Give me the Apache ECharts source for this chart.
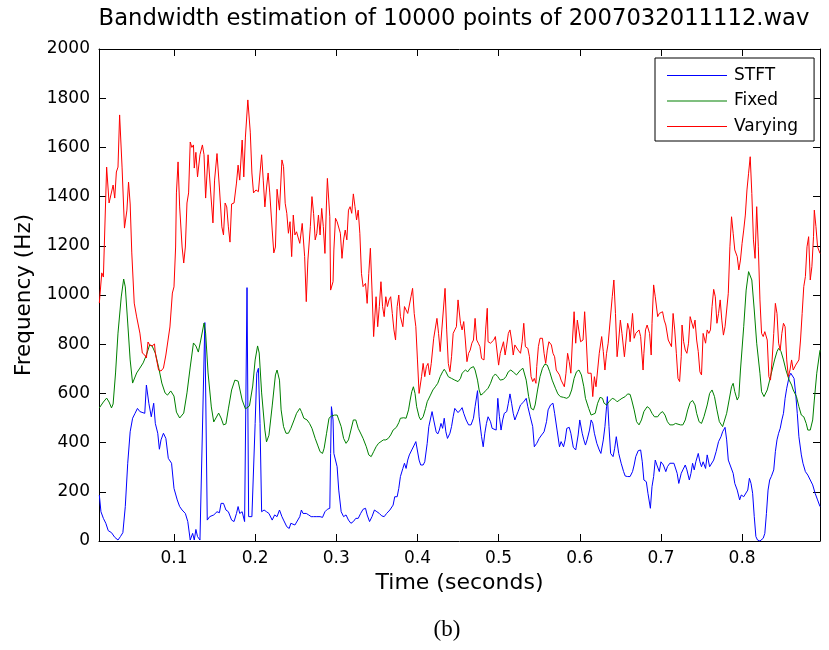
<!DOCTYPE html>
<html>
<head>
<meta charset="utf-8">
<script src="https://cdn.jsdelivr.net/npm/echarts@6/dist/echarts.min.js"></script>
<style>
  html, body { margin: 0; padding: 0; background: #fff; }
  #chart { width: 829px; height: 650px; }
</style>
</head>
<body>
<div id="chart"></div>
<script>
// tick labels
const timeTicks = [0.1, 0.2, 0.3, 0.4, 0.5, 0.6, 0.7, 0.8]
const seriesNames = ['STFT', 'Fixed', 'Varying']

// [time (s), bandwidth (Hz)]
const stft = [
  [0.008,187],[0.010,119],[0.013,92],[0.016,72],[0.019,42],[0.023,34],[0.027,15],[0.031,4],[0.034,18],[0.037,34],
  [0.040,140],[0.043,316],[0.046,444],[0.049,499],[0.052,519],[0.055,539],[0.058,526],[0.064,519],[0.066,634],[0.069,560],
  [0.072,505],[0.075,560],[0.077,478],[0.080,438],[0.082,373],[0.084,411],[0.087,438],[0.090,417],[0.093,336],[0.097,316],
  [0.100,214],[0.104,167],[0.107,140],[0.110,126],[0.114,112],[0.117,79],[0.120,4],[0.123,31],[0.125,4],[0.127,47],
  [0.129,18],[0.132,4],[0.134,4],[0.138,888],[0.141,85],[0.144,99],[0.149,106],[0.153,119],[0.156,115],[0.158,153],
  [0.161,153],[0.164,126],[0.167,119],[0.171,85],[0.174,79],[0.177,112],[0.179,140],[0.181,112],[0.184,119],[0.187,79],
  [0.190,1030],[0.192,99],[0.196,99],[0.198,102],[0.200,478],[0.202,682],[0.204,702],[0.206,478],[0.208,119],[0.211,126],
  [0.214,119],[0.217,112],[0.221,85],[0.224,106],[0.227,99],[0.230,126],[0.233,99],[0.235,85],[0.237,79],[0.239,58],
  [0.242,51],[0.244,72],[0.246,65],[0.249,65],[0.251,72],[0.255,99],[0.257,126],[0.259,112],[0.263,112],[0.266,106],
  [0.269,99],[0.272,99],[0.276,99],[0.280,99],[0.283,96],[0.286,119],[0.289,129],[0.292,133],[0.293,356],[0.294,546],
  [0.296,492],[0.297,356],[0.301,302],[0.303,207],[0.306,119],[0.309,99],[0.312,106],[0.315,85],[0.318,72],[0.321,79],
  [0.324,92],[0.327,92],[0.330,112],[0.333,129],[0.336,133],[0.338,106],[0.341,79],[0.344,99],[0.347,126],[0.350,119],
  [0.353,112],[0.356,102],[0.359,99],[0.362,112],[0.366,126],[0.368,133],[0.370,146],[0.372,180],[0.375,180],[0.377,214],
  [0.379,262],[0.382,295],[0.384,316],[0.386,295],[0.388,329],[0.390,350],[0.393,370],[0.396,390],[0.398,404],[0.400,411],
  [0.402,329],[0.404,309],[0.407,309],[0.409,322],[0.412,397],[0.414,465],[0.418,526],[0.420,492],[0.423,444],[0.425,435],
  [0.427,451],[0.429,478],[0.431,458],[0.433,499],[0.435,444],[0.437,417],[0.440,438],[0.442,465],[0.444,505],[0.446,539],
  [0.450,522],[0.453,533],[0.455,542],[0.457,519],[0.460,492],[0.463,472],[0.466,472],[0.469,499],[0.471,546],[0.474,611],
  [0.476,505],[0.479,424],[0.481,383],[0.483,438],[0.485,478],[0.487,505],[0.490,485],[0.492,458],[0.494,451],[0.497,451],
  [0.499,580],[0.501,505],[0.503,451],[0.505,492],[0.507,519],[0.510,526],[0.512,560],[0.514,598],[0.516,560],[0.518,519],
  [0.520,492],[0.522,485],[0.524,526],[0.527,553],[0.529,553],[0.531,566],[0.534,580],[0.536,546],[0.539,505],[0.542,465],
  [0.544,383],[0.547,397],[0.550,417],[0.553,431],[0.556,444],[0.559,485],[0.561,533],[0.564,553],[0.567,560],[0.569,519],
  [0.572,451],[0.575,383],[0.577,404],[0.580,383],[0.582,411],[0.584,458],[0.587,462],[0.589,438],[0.592,381],[0.595,370],
  [0.598,431],[0.600,492],[0.603,438],[0.605,411],[0.607,390],[0.609,411],[0.612,451],[0.614,492],[0.616,478],[0.618,438],
  [0.621,397],[0.624,370],[0.626,356],[0.629,411],[0.631,465],[0.633,546],[0.634,587],[0.636,465],[0.638,356],[0.641,343],
  [0.643,377],[0.645,424],[0.648,356],[0.651,316],[0.654,282],[0.656,264],[0.659,262],[0.662,262],[0.665,282],[0.667,309],
  [0.669,343],[0.672,367],[0.675,370],[0.677,322],[0.679,248],[0.682,241],[0.684,194],[0.687,133],[0.689,221],[0.691,262],
  [0.693,329],[0.695,309],[0.698,282],[0.700,322],[0.703,309],[0.706,282],[0.708,302],[0.711,316],[0.713,309],[0.716,316],
  [0.720,275],[0.722,234],[0.725,275],[0.727,289],[0.730,309],[0.732,289],[0.735,248],[0.737,275],[0.739,316],[0.741,289],
  [0.743,322],[0.746,356],[0.748,322],[0.750,302],[0.752,322],[0.755,295],[0.757,350],[0.760,302],[0.762,295],[0.765,329],
  [0.768,363],[0.771,404],[0.774,424],[0.776,444],[0.779,462],[0.781,411],[0.783,329],[0.785,322],[0.789,275],[0.791,234],
  [0.794,207],[0.797,167],[0.799,187],[0.802,180],[0.804,173],[0.807,207],[0.809,255],[0.811,234],[0.813,194],[0.815,99],
  [0.817,18],[0.819,4],[0.822,0],[0.826,11],[0.828,31],[0.830,112],[0.832,207],[0.834,248],[0.836,262],[0.839,289],
  [0.841,363],[0.843,411],[0.845,438],[0.847,458],[0.849,492],[0.851,519],[0.853,580],[0.855,621],[0.858,668],[0.860,682],
  [0.862,688],[0.864,661],[0.866,600],[0.868,519],[0.870,424],[0.873,350],[0.875,316],[0.878,282],[0.881,268],[0.884,248],
  [0.887,228],[0.890,194],[0.893,167],[0.896,140]
]

const fixed = [
  [0.008,541],[0.013,565],[0.017,581],[0.020,565],[0.023,541],[0.025,557],[0.028,683],[0.031,845],[0.035,992],[0.038,1065],
  [0.040,1033],[0.043,886],[0.046,736],[0.049,642],[0.051,642],[0.054,683],[0.058,703],[0.062,724],[0.066,756],[0.070,797],
  [0.073,793],[0.077,764],[0.081,707],[0.085,642],[0.089,602],[0.092,593],[0.096,610],[0.100,589],[0.103,524],[0.107,500],
  [0.112,520],[0.116,602],[0.120,707],[0.124,805],[0.127,793],[0.130,768],[0.133,817],[0.137,886],[0.139,845],[0.142,683],
  [0.146,545],[0.149,484],[0.151,488],[0.155,520],[0.158,500],[0.161,472],[0.164,476],[0.167,537],[0.171,614],[0.175,654],
  [0.179,650],[0.184,573],[0.188,537],[0.193,549],[0.197,630],[0.200,736],[0.203,793],[0.205,764],[0.208,602],[0.212,451],
  [0.214,403],[0.217,430],[0.221,549],[0.225,675],[0.227,695],[0.230,654],[0.232,533],[0.235,465],[0.238,438],[0.241,438],
  [0.244,458],[0.248,492],[0.251,519],[0.255,539],[0.257,526],[0.260,499],[0.264,492],[0.267,478],[0.270,458],[0.274,417],
  [0.277,390],[0.280,363],[0.283,356],[0.285,377],[0.288,438],[0.291,499],[0.294,508],[0.298,512],[0.301,512],[0.303,505],
  [0.306,465],[0.309,417],[0.312,397],[0.315,411],[0.318,451],[0.321,492],[0.324,492],[0.327,458],[0.331,431],[0.333,417],
  [0.337,383],[0.340,350],[0.343,343],[0.346,363],[0.349,383],[0.352,397],[0.355,404],[0.358,411],[0.361,411],[0.364,417],
  [0.367,431],[0.370,451],[0.374,462],[0.377,481],[0.379,499],[0.383,501],[0.386,499],[0.389,533],[0.391,573],[0.393,607],
  [0.395,627],[0.397,600],[0.399,546],[0.402,505],[0.404,492],[0.407,505],[0.410,539],[0.412,566],[0.416,593],[0.419,614],
  [0.422,627],[0.425,641],[0.428,668],[0.431,688],[0.433,698],[0.435,688],[0.438,668],[0.442,661],[0.446,654],[0.450,648],
  [0.453,661],[0.455,682],[0.459,695],[0.462,688],[0.465,702],[0.469,709],[0.471,695],[0.474,654],[0.476,614],[0.478,593],
  [0.481,600],[0.484,611],[0.487,621],[0.490,641],[0.493,668],[0.496,679],[0.499,668],[0.502,654],[0.506,657],[0.509,668],
  [0.512,688],[0.515,695],[0.518,687],[0.522,675],[0.524,682],[0.527,695],[0.530,702],[0.532,695],[0.534,654],[0.537,587],
  [0.540,539],[0.543,533],[0.545,553],[0.548,614],[0.551,668],[0.554,702],[0.557,719],[0.560,715],[0.563,688],[0.566,654],
  [0.570,621],[0.573,598],[0.576,587],[0.580,584],[0.584,580],[0.587,587],[0.590,614],[0.593,661],[0.596,688],[0.599,695],
  [0.602,675],[0.605,627],[0.607,580],[0.611,539],[0.614,512],[0.616,505],[0.619,519],[0.622,560],[0.625,584],[0.628,580],
  [0.630,560],[0.633,553],[0.636,566],[0.640,580],[0.643,576],[0.646,566],[0.649,573],[0.652,580],[0.656,587],[0.659,598],
  [0.662,596],[0.664,573],[0.667,533],[0.670,485],[0.673,472],[0.676,492],[0.679,526],[0.683,546],[0.686,539],[0.689,519],
  [0.692,505],[0.696,505],[0.699,519],[0.702,526],[0.705,512],[0.708,485],[0.711,472],[0.715,472],[0.718,478],[0.720,478],
  [0.724,472],[0.727,472],[0.730,492],[0.733,533],[0.736,563],[0.739,571],[0.742,553],[0.744,519],[0.747,485],[0.750,478],
  [0.753,505],[0.757,553],[0.760,600],[0.763,614],[0.766,587],[0.769,533],[0.772,485],[0.776,465],[0.778,472],[0.781,519],
  [0.784,573],[0.787,627],[0.789,641],[0.791,607],[0.794,573],[0.796,587],[0.798,695],[0.802,871],[0.805,1020],[0.808,1095],
  [0.810,1102],[0.812,1061],[0.815,939],[0.818,804],[0.822,682],[0.824,607],[0.827,587],[0.831,614],[0.834,654],[0.837,695],
  [0.840,736],[0.843,770],[0.845,783],[0.848,770],[0.851,736],[0.854,695],[0.858,654],[0.861,634],[0.863,614],[0.867,587],
  [0.870,546],[0.873,512],[0.876,505],[0.879,478],[0.881,451],[0.884,451],[0.887,492],[0.889,573],[0.892,682],[0.896,776]
]

const varying = [
  [0.008,967],[0.011,1090],[0.013,1073],[0.017,1520],[0.020,1374],[0.022,1374],[0.025,1447],[0.027,1394],[0.029,1500],[0.031,1520],
  [0.033,1732],[0.036,1520],[0.039,1272],[0.042,1345],[0.044,1459],[0.046,1370],[0.048,1171],[0.051,967],[0.054,911],[0.056,905],
  [0.058,845],[0.061,764],[0.064,756],[0.066,744],[0.068,809],[0.070,797],[0.073,793],[0.076,801],[0.077,764],[0.081,695],
  [0.084,691],[0.087,703],[0.090,756],[0.092,764],[0.095,870],[0.098,1008],[0.100,1033],[0.102,1195],[0.103,1415],[0.105,1541],
  [0.107,1358],[0.110,1195],[0.112,1130],[0.114,1195],[0.116,1374],[0.118,1415],[0.120,1622],[0.122,1600],[0.124,1610],[0.125,1516],
  [0.127,1580],[0.129,1480],[0.132,1570],[0.135,1610],[0.137,1570],[0.139,1394],[0.142,1570],[0.145,1427],[0.148,1293],[0.150,1467],
  [0.153,1575],[0.156,1435],[0.159,1277],[0.161,1244],[0.163,1374],[0.165,1358],[0.167,1277],[0.169,1215],[0.171,1370],[0.174,1374],
  [0.177,1455],[0.179,1528],[0.181,1467],[0.184,1630],[0.186,1480],[0.188,1642],[0.191,1793],[0.194,1662],[0.196,1496],[0.198,1415],
  [0.201,1427],[0.204,1420],[0.206,1496],[0.208,1570],[0.210,1467],[0.212,1358],[0.214,1435],[0.216,1496],[0.218,1415],[0.221,1264],
  [0.223,1171],[0.225,1195],[0.227,1430],[0.230,1345],[0.233,1549],[0.235,1522],[0.237,1373],[0.239,1332],[0.241,1251],[0.243,1298],
  [0.245,1156],[0.247,1325],[0.249,1244],[0.251,1257],[0.253,1264],[0.255,1210],[0.258,1291],[0.261,1156],[0.263,973],[0.265,1142],
  [0.268,1278],[0.270,1400],[0.272,1332],[0.274,1224],[0.276,1251],[0.278,1325],[0.280,1244],[0.282,1352],[0.284,1278],[0.286,1169],
  [0.288,1386],[0.289,1474],[0.292,1318],[0.293,1020],[0.296,1054],[0.297,1183],[0.299,1312],[0.301,1298],[0.303,1305],[0.305,1251],
  [0.307,1149],[0.309,1224],[0.311,1264],[0.313,1224],[0.315,1345],[0.317,1359],[0.319,1332],[0.321,1411],[0.323,1359],[0.325,1305],
  [0.327,1345],[0.329,1251],[0.331,1088],[0.333,1034],[0.336,1047],[0.338,966],[0.340,1088],[0.342,1190],[0.344,1020],[0.346,831],
  [0.349,993],[0.351,871],[0.353,953],[0.355,1054],[0.357,953],[0.359,912],[0.361,993],[0.363,953],[0.365,980],[0.367,993],
  [0.369,925],[0.371,858],[0.373,817],[0.375,953],[0.377,1000],[0.379,912],[0.382,871],[0.384,953],[0.386,959],[0.388,925],
  [0.390,925],[0.392,993],[0.394,1027],[0.396,925],[0.398,871],[0.400,736],[0.402,600],[0.405,668],[0.407,722],[0.409,668],
  [0.411,709],[0.413,722],[0.415,675],[0.417,722],[0.420,824],[0.422,831],[0.424,905],[0.426,844],[0.428,770],[0.430,858],
  [0.432,864],[0.434,1027],[0.436,858],[0.438,722],[0.440,688],[0.442,749],[0.444,844],[0.446,858],[0.448,871],[0.450,980],
  [0.453,885],[0.455,858],[0.457,892],[0.459,817],[0.461,729],[0.463,763],[0.465,776],[0.467,804],[0.469,817],[0.471,905],
  [0.473,817],[0.475,804],[0.477,790],[0.479,742],[0.482,736],[0.484,858],[0.486,946],[0.487,810],[0.490,804],[0.492,804],
  [0.494,817],[0.496,831],[0.498,837],[0.500,715],[0.502,763],[0.504,763],[0.506,810],[0.508,756],[0.510,797],[0.512,844],
  [0.514,858],[0.516,817],[0.518,756],[0.520,797],[0.522,790],[0.524,776],[0.527,763],[0.529,810],[0.531,885],[0.533,790],
  [0.536,783],[0.538,749],[0.540,668],[0.542,648],[0.544,661],[0.546,641],[0.547,709],[0.549,790],[0.551,824],[0.554,824],
  [0.556,763],[0.558,722],[0.560,776],[0.562,810],[0.565,797],[0.567,763],[0.569,749],[0.571,695],[0.573,688],[0.575,675],
  [0.577,654],[0.579,661],[0.581,627],[0.583,682],[0.585,763],[0.587,729],[0.589,682],[0.591,817],[0.593,932],[0.595,804],
  [0.597,898],[0.599,892],[0.601,810],[0.604,817],[0.606,932],[0.608,817],[0.610,682],[0.612,675],[0.614,682],[0.616,587],
  [0.618,668],[0.620,627],[0.622,695],[0.624,763],[0.627,831],[0.629,770],[0.631,695],[0.633,763],[0.635,804],[0.637,797],
  [0.640,993],[0.642,1061],[0.644,925],[0.646,749],[0.648,817],[0.650,898],[0.652,844],[0.655,749],[0.657,817],[0.659,885],
  [0.661,858],[0.662,810],[0.665,925],[0.667,824],[0.669,844],[0.671,851],[0.673,858],[0.675,831],[0.678,695],[0.679,763],
  [0.681,858],[0.683,878],[0.686,844],[0.688,756],[0.689,885],[0.691,1041],[0.693,993],[0.696,912],[0.698,925],[0.700,919],
  [0.702,932],[0.704,898],[0.706,878],[0.709,817],[0.711,817],[0.713,790],[0.715,925],[0.717,858],[0.719,763],[0.721,661],
  [0.723,648],[0.725,749],[0.726,878],[0.728,810],[0.730,776],[0.732,763],[0.734,804],[0.736,912],[0.738,919],[0.740,864],
  [0.742,898],[0.744,817],[0.746,770],[0.748,688],[0.750,675],[0.752,844],[0.755,804],[0.757,858],[0.759,844],[0.761,858],
  [0.763,953],[0.765,1023],[0.767,993],[0.769,885],[0.771,925],[0.773,980],[0.775,898],[0.777,837],[0.779,871],[0.781,878],
  [0.783,1007],[0.785,1196],[0.787,1318],[0.789,1251],[0.791,1183],[0.794,1156],[0.796,1102],[0.798,1142],[0.800,1210],[0.802,1264],
  [0.804,1325],[0.806,1427],[0.808,1495],[0.810,1562],[0.812,1413],[0.814,1224],[0.816,1149],[0.818,1359],[0.820,1196],[0.822,980],
  [0.824,844],[0.826,831],[0.828,851],[0.831,817],[0.833,668],[0.835,654],[0.837,736],[0.839,844],[0.841,966],[0.843,925],
  [0.845,804],[0.847,776],[0.849,844],[0.851,885],[0.853,871],[0.855,736],[0.857,668],[0.859,695],[0.861,736],[0.863,695],
  [0.866,715],[0.868,722],[0.870,736],[0.872,817],[0.874,925],[0.876,1034],[0.878,1075],[0.880,1196],[0.882,1237],[0.884,1061],
  [0.886,1115],[0.888,1237],[0.889,1345],[0.891,1278],[0.893,1196],[0.896,1169]
]

const FONT = '"DejaVu Sans", sans-serif'
const chart = echarts.init(document.getElementById('chart'), null, { renderer: 'canvas' })

// MATLAB-ish boxed axes: ticks inside on all four sides
function boxAxis(extra) {
  return Object.assign({
    axisLine: { show: true, onZero: false, lineStyle: { color: '#000', width: 1 } },
    splitLine: { show: false }
  }, extra)
}

chart.setOption({
  animation: false,
  backgroundColor: '#fff',
  grid: { left: 99, right: 9, top: 49, bottom: 109 },
  graphic: [
    {
      type: 'text', x: 454, y: 19,
      style: {
        text: 'Bandwidth estimation of 10000 points of 2007032011112.wav',
        font: '22.7px ' + FONT, fill: '#000',
        align: 'center', verticalAlign: 'middle', textAlign: 'center', textVerticalAlign: 'middle'
      }
    },
    {
      type: 'text', x: 447, y: 630,
      style: {
        text: '(b)', font: '23px "Liberation Serif", serif', fill: '#000',
        align: 'center', verticalAlign: 'middle', textAlign: 'center', textVerticalAlign: 'middle'
      }
    }
  ],
  legend: {
    data: seriesNames,
    orient: 'vertical',
    left: 655,
    top: 58,
    icon: 'rect',
    backgroundColor: '#fff',
    borderColor: '#000',
    borderWidth: 1,
    borderRadius: 0,
    padding: [9, 16, 6, 12],
    itemWidth: 60,
    itemHeight: 1,
    itemGap: 8.5,
    textStyle: { fontSize: 17, fontFamily: FONT, color: '#000', padding: [0, 0, 0, 2] }
  },
  xAxis: [
    boxAxis({
      type: 'value', position: 'bottom', min: 0.0076, max: 0.896,
      axisTick: { inside: true, length: 7, customValues: timeTicks, lineStyle: { color: '#000' } },
      axisLabel: { customValues: timeTicks, margin: 9, fontSize: 17, fontFamily: FONT, color: '#000', formatter: (v) => String(v) },
      name: 'Time (seconds)', nameLocation: 'middle', nameGap: 28,
      nameTextStyle: { fontSize: 22, fontFamily: FONT, color: '#000' }
    }),
    boxAxis({
      type: 'value', position: 'top', min: 0.0076, max: 0.896,
      axisTick: { inside: true, length: 7, customValues: timeTicks, lineStyle: { color: '#000' } },
      axisLabel: { show: false }
    })
  ],
  yAxis: [
    boxAxis({
      type: 'value', position: 'left', min: 0, max: 2000, interval: 200,
      axisTick: { inside: true, length: 7, lineStyle: { color: '#000' } },
      axisLabel: { margin: 9, fontSize: 17, fontFamily: FONT, color: '#000', formatter: (v) => String(v) },
      name: 'Frequency (Hz)', nameLocation: 'middle', nameGap: 56,
      nameTextStyle: { fontSize: 21.5, fontFamily: FONT, color: '#000' }
    }),
    boxAxis({
      type: 'value', position: 'right', min: 0, max: 2000, interval: 200,
      axisTick: { inside: true, length: 7, lineStyle: { color: '#000' } },
      axisLabel: { show: false }
    })
  ],
  series: [
    { name: 'STFT', type: 'line', data: stft, symbol: 'none', lineStyle: { color: '#0000ff', width: 1 }, itemStyle: { color: '#0000ff' } },
    { name: 'Fixed', type: 'line', data: fixed, symbol: 'none', lineStyle: { color: '#008000', width: 1 }, itemStyle: { color: '#008000' } },
    { name: 'Varying', type: 'line', data: varying, symbol: 'none', lineStyle: { color: '#ff0000', width: 1 }, itemStyle: { color: '#ff0000' } }
  ]
})
</script>
</body>
</html>
